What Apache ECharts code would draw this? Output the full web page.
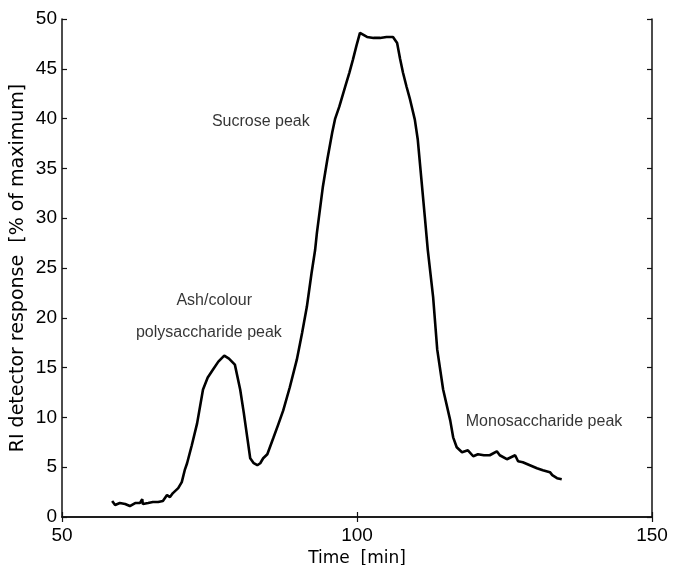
<!DOCTYPE html>
<html>
<head>
<meta charset="utf-8">
<script src="https://cdn.jsdelivr.net/npm/echarts@6/dist/echarts.min.js"></script>
<style>
html,body{margin:0;padding:0;background:#fff;}
#c{width:682px;height:565px;}
</style>
</head>
<body>
<div id="c"></div>
<script>
var timeMin = [58.5,59.0,59.8,60.7,61.5,62.4,63.2,63.6,63.7,64.6,65.4,66.3,67.1,67.8,68.3,68.8,69.7,70.3,70.8,71.2,72.0,72.9,73.9,74.7,75.6,76.5,77.5,78.3,79.3,80.2,80.8,81.4,81.9,82.5,83.1,83.6,84.1,84.8,85.8,86.6,87.5,88.6,89.8,90.7,91.5,92.3,92.9,93.2,94.2,95.0,95.8,96.3,97.0,97.5,98.0,98.7,99.3,99.9,100.5,100.8,101.7,102.8,103.9,105.0,106.1,106.8,107.3,107.8,108.4,109.0,109.8,110.3,110.9,111.5,112.0,112.9,113.6,114.6,115.8,116.3,116.9,117.8,118.8,119.7,120.5,121.5,122.5,123.7,124.2,125.4,126.8,127.3,128.1,129.3,130.5,131.5,132.7,133.1,133.9,134.7];
var response = [1.6,1.2,1.4,1.3,1.1,1.4,1.4,1.8,1.3,1.4,1.5,1.5,1.6,2.2,2.0,2.4,2.9,3.5,4.7,5.4,7.2,9.4,12.8,14.0,14.8,15.6,16.2,15.9,15.3,12.8,10.5,8.0,5.9,5.4,5.2,5.4,5.9,6.3,7.9,9.2,10.7,13.0,15.8,18.5,21.1,24.5,26.8,28.5,33.1,36.0,38.6,40.0,41.2,42.2,43.2,44.6,45.9,47.3,48.6,48.6,48.2,48.1,48.1,48.2,48.2,47.6,46.0,44.6,43.2,41.9,39.9,37.9,34.0,30.1,26.8,22.1,16.8,12.8,9.7,8.0,7.0,6.5,6.7,6.1,6.3,6.2,6.2,6.6,6.2,5.8,6.2,5.6,5.5,5.2,4.9,4.7,4.5,4.2,3.9,3.8];
var xTicks = [50, 100, 150];
var yTicks = [0,5,10,15,20,25,30,35,40,45,50];
var noteTexts = ["Sucrose peak", "Ash/colour", "polysaccharide peak", "Monosaccharide peak"];
var noteTime = [83.7, 75.8, 74.9, 131.7];
var noteResp = [39.7, 21.7, 18.5, 9.6];

var lineData = timeMin.map(function(t, i){ return [t, response[i]]; });
var noteData = noteTexts.map(function(s, i){ return {value:[noteTime[i], noteResp[i]], name:s}; });

var axisLine = {show:true, lineStyle:{color:'#111', width:1.5}};
var tick = {show:true, inside:true, length:5, lineStyle:{color:'#111', width:1.2}};
var chart = echarts.init(document.getElementById('c'));
chart.setOption({
  animation:false,
  backgroundColor:'#fff',
  grid:{left:62, right:30, top:19, bottom:48, containLabel:false, outerBoundsMode:'none'},
  xAxis:[{
    type:'value', min:xTicks[0], max:xTicks[xTicks.length-1], interval:50,
    name:'Time  [min]', nameLocation:'middle', nameGap:30,
    nameTextStyle:{fontFamily:'DejaVu Sans', fontSize:17, color:'#000'},
    axisLine:axisLine, axisTick:tick,
    axisLabel:{fontFamily:'Liberation Sans', fontSize:19, color:'#000', margin:9},
    splitLine:{show:false}
  },{
    type:'value', position:'top', min:xTicks[0], max:xTicks[xTicks.length-1], interval:50,
    axisLine:axisLine, axisTick:tick,
    axisLabel:{show:false}, splitLine:{show:false}
  }],
  yAxis:[{
    type:'value', min:yTicks[0], max:yTicks[yTicks.length-1], interval:5,
    name:'RI detector response  [% of maximum]', nameLocation:'middle', nameGap:34,
    nameMoveOverlap:false,
    nameTextStyle:{fontFamily:'DejaVu Sans', fontSize:19, color:'#000'},
    axisLine:axisLine, axisTick:tick,
    axisLabel:{fontFamily:'Liberation Sans', fontSize:19, color:'#000', margin:5},
    splitLine:{show:false}
  },{
    type:'value', position:'right', min:yTicks[0], max:yTicks[yTicks.length-1], interval:5,
    axisLine:axisLine, axisTick:tick,
    axisLabel:{show:false}, splitLine:{show:false}
  }],
  series:[{
    type:'line', data:lineData, showSymbol:false, symbol:'none',
    lineStyle:{color:'#000', width:2.6}, z:3
  },{
    type:'scatter', data:noteData, symbolSize:0, silent:true,
    itemStyle:{color:'#000'},
    label:{show:true, position:'inside', formatter:function(p){return p.name;},
      fontFamily:'Liberation Sans', fontSize:16, color:'#000', textBorderWidth:0}
  }]
});
</script>
</body>
</html>
